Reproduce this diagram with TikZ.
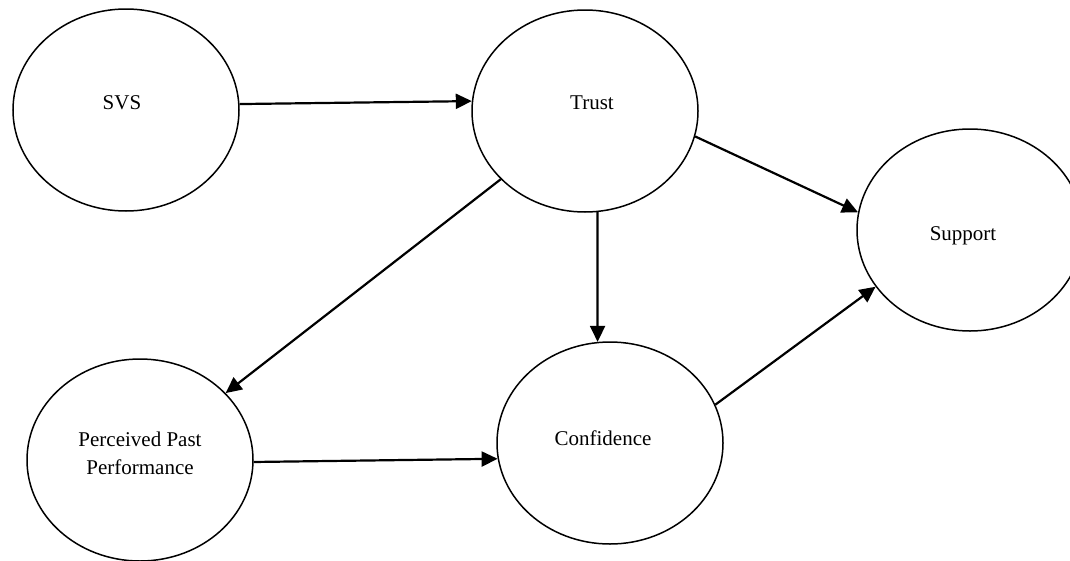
\documentclass[tikz,border=0pt]{standalone}
\usepackage{fontspec}
\setmainfont{Liberation Serif}
\usetikzlibrary{shapes.geometric,arrows.meta}
\tikzset{
  ell/.style={draw, ellipse, line width=1.5pt, minimum width=226pt, minimum height=202pt, inner sep=0pt},
  lbl/.style={font=\fontsize{21}{28}\selectfont, align=center},
  conn/.style={line width=2.2pt, -{Triangle[length=16pt,width=15pt]}}
}
\begin{document}
\begin{tikzpicture}[x=1pt,y=-1pt]
\useasboundingbox (0,0) rectangle (1070,560);
\node[ell, label={[lbl,xshift=-4pt,yshift=7pt]center:SVS}] (svs) at (126,110) {};
\node[ell, label={[lbl,xshift=7pt,yshift=8pt]center:Trust}] (trust) at (585,111) {};
\node[ell, label={[lbl,xshift=-7pt,yshift=-6pt]center:Support}] (support) at (970,230) {};
\node[ell, label={[lbl,yshift=7pt]center:Perceived Past\\Performance}] (ppp) at (140,460) {};
\node[ell, label={[lbl,xshift=-7pt,yshift=5pt]center:Confidence}] (conf) at (610,443) {};
\draw[conn] (svs.3.5) -- (trust.175.4);
\draw[conn] (trust.-13.4) -- (support.171);
\draw[conn] (trust.219.7) -- (ppp.38.3);
\draw[conn] (trust.-83.2) -- (conf.97.3);
\draw[conn] (ppp.-1) -- (conf.188.7);
\draw[conn] (conf.20.2) -- (support.211.1);
\end{tikzpicture}
\end{document}
